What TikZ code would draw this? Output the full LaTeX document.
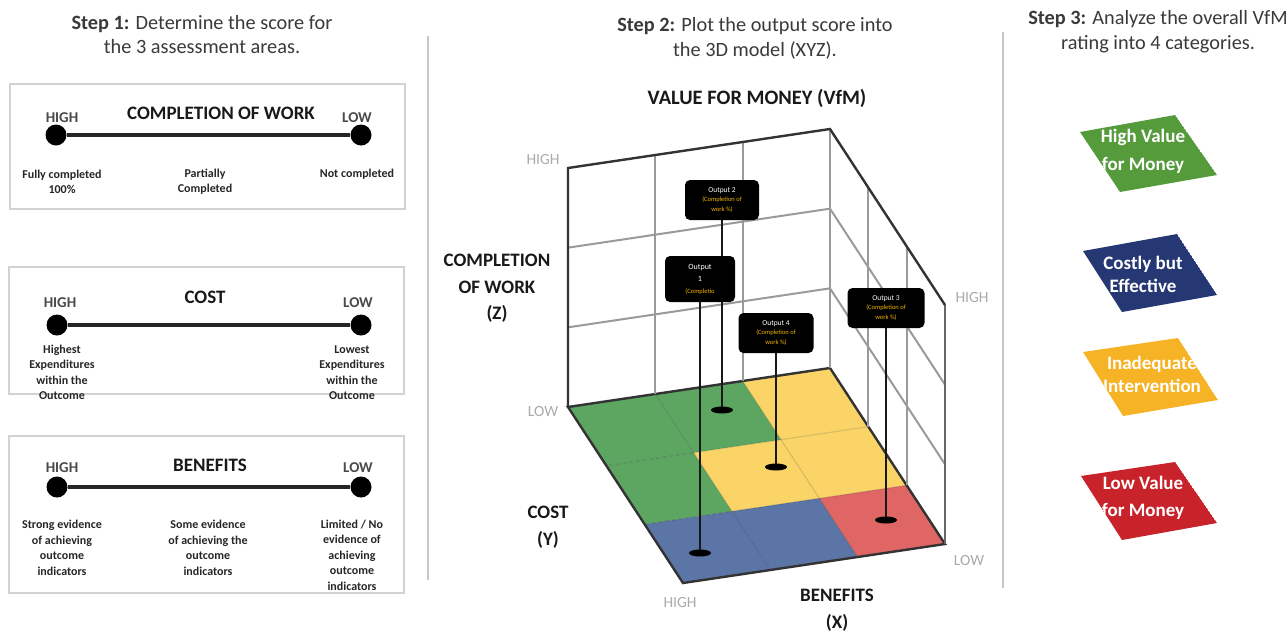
\documentclass[tikz,border=0pt]{standalone}
\usepackage{fontspec}
\setmainfont{Carlito}
\usetikzlibrary{calc}
\definecolor{ttl}{HTML}{3A3A3A}
\definecolor{pbord}{HTML}{D2D2D2}
\definecolor{hlg}{HTML}{4A4A4A}
\definecolor{axg}{HTML}{ABABAB}
\definecolor{fgreen}{HTML}{5CA662}
\definecolor{fyellow}{HTML}{FAD466}
\definecolor{fblue}{HTML}{5B76A6}
\definecolor{fred}{HTML}{E06666}
\definecolor{wallg}{HTML}{9A9A9A}
\definecolor{edg}{HTML}{333333}
\definecolor{outor}{HTML}{F5B400}
\definecolor{cgreen}{HTML}{559B3C}
\definecolor{cnavy}{HTML}{263873}
\definecolor{cyellow}{HTML}{F6B325}
\definecolor{cred}{HTML}{C8232B}
\definecolor{sepg}{HTML}{C8C8C8}
\pgfdeclarelayer{bg}
\pgfsetlayers{bg,main}
\begin{document}
\begin{tikzpicture}[x=1pt,y=-1pt,
 steptitle/.style={font=\fontsize{20.3}{24.5}\selectfont, text=ttl, align=center},
 phead/.style={font=\bfseries\fontsize{19}{22}\selectfont, text=black!90},
 hilo/.style={font=\bfseries\fontsize{15}{18}\selectfont, text=hlg},
 sub/.style={font=\bfseries\fontsize{12}{15.5}\selectfont, text=black!85, align=center},
 panel/.style={draw=pbord, line width=1.6pt},
 sdot/.style={circle, fill=black, minimum size=21pt, inner sep=0pt},
 scaleline/.style={line width=4.5pt, draw=black!85},
 ax/.style={font=\fontsize{15.5}{18}\selectfont, text=axg},
 axname/.style={font=\bfseries\fontsize{19}{26.5}\selectfont, align=center, text=black!90},
 outbox/.style={fill=black, rounded corners=5pt, minimum width=74pt, minimum height=40pt, align=center, inner sep=1pt, font=\fontsize{7.5}{9.5}\selectfont, text=white},
 pole/.style={line width=2.6pt, draw=black!90},
 wall/.style={draw=wallg, line width=2pt},
 outline3d/.style={draw=edg, line width=2.4pt},
 cat/.style={font=\bfseries\fontsize{19}{26}\selectfont, text=white, align=center},
 sepline/.style={draw=sepg, line width=1.6pt}]
\useasboundingbox (0,0) rectangle (1288,633);
\begin{pgfonlayer}{bg}
\fill[white] (0,0) rectangle (1288,633);
\end{pgfonlayer}

% separators
\draw[sepline] (428,36) -- (428,580);
\draw[sepline] (1003,32) -- (1003,588);

% ---------- Step 1 ----------
\node[steptitle] (t1) at (202,34.5) {\textbf{Step 1:} Determine the score for\\the 3 assessment areas.};

\draw[panel] (10,84) rectangle (405,209);
\node[sdot] (h1) at (56,135) {};
\node[sdot] (l1) at (361,135) {};
\draw[scaleline] (h1) -- (l1);
\node[hilo] (hi1) at (62,118) {HIGH};
\node[phead] (hd1) at (221,113) {COMPLETION OF WORK};
\node[hilo] (lo1) at (357,118) {LOW};
\node[sub] (s1a) at (62,182) {Fully completed\\100\%};
\node[sub] (s1b) at (205,181.5) {Partially\\Completed};
\node[sub] (s1c) at (357,174) {Not completed};

\draw[panel] (9,267) rectangle (404,394);
\node[sdot] (h2) at (57,325) {};
\node[sdot] (l2) at (361,325) {};
\draw[scaleline] (h2) -- (l2);
\node[hilo] (hi2) at (60,303) {HIGH};
\node[phead] (hd2) at (205,297) {COST};
\node[hilo] (lo2) at (358,303) {LOW};
\node[sub] (s2a) at (62,372.5) {Highest\\Expenditures\\within the\\Outcome};
\node[sub] (s2c) at (352,372.5) {Lowest\\Expenditures\\within the\\Outcome};

\draw[panel] (9,436) rectangle (404,593);
\node[sdot] (h3) at (57,487) {};
\node[sdot] (l3) at (361,487) {};
\draw[scaleline] (h3) -- (l3);
\node[hilo] (hi3) at (62,468) {HIGH};
\node[phead] (hd3) at (210,465) {BENEFITS};
\node[hilo] (lo3) at (358,468) {LOW};
\node[sub] (s3a) at (62,548) {Strong evidence\\of achieving\\outcome\\indicators};
\node[sub] (s3b) at (208,548) {Some evidence\\of achieving the\\outcome\\indicators};
\node[sub] (s3c) at (352,555) {Limited / No\\evidence of\\achieving\\outcome\\indicators};

% ---------- Step 2 ----------
\node[steptitle] (t2) at (755,38.5) {\textbf{Step 2:} Plot the output score into\\the 3D model (XYZ).};
\node[phead, font=\bfseries\fontsize{20.5}{22}\selectfont] (vfm) at (757,98) {VALUE FOR MONEY (VfM)};

\begin{pgfonlayer}{bg}
\begin{scope}[shift={(568,407)}, x={(262pt,39pt)}, y={(115pt,-176pt)}, z={(0pt,239pt)}]
 \foreach \i/\j/\c in {0/0/fgreen,1/0/fgreen,2/0/fyellow,0/1/fgreen,1/1/fyellow,2/1/fyellow,0/2/fblue,1/2/fblue,2/2/fred}
  \fill[\c] ({\i/3},{\j/3}) -- ({(\i+1)/3},{\j/3}) -- ({(\i+1)/3},{(\j+1)/3}) -- ({\i/3},{(\j+1)/3}) -- cycle;
 \foreach \t in {0.3333,0.6667} {
  \draw[black, opacity=0.15, line width=1pt] (\t,0) -- (\t,1);
  \draw[black, opacity=0.15, line width=1pt] (0,\t) -- (1,\t);
 }
 \draw[outline3d] (0,0) -- (1,0) -- (1,1) -- (0,1) -- cycle;
 \foreach \t in {0.3333,0.6667,1} \draw[wall] (\t,0,0) -- (\t,0,1);
 \foreach \t in {0.3333,0.6667} \draw[wall] (0,0,\t) -- (1,0,\t);
 \foreach \t in {0.3333,0.6667} \draw[wall] (1,\t,0) -- (1,\t,1);
 \foreach \t in {0.3333,0.6667} \draw[wall] (1,0,\t) -- (1,1,\t);
 \draw[wall, draw=black!60] (1,1,0) -- (1,1,1);
 \draw[outline3d] (0,0,0) -- (0,0,1) -- (1,0,1) -- (1,1,1);
\end{scope}
\end{pgfonlayer}

\coordinate (f1) at (700,553);
\coordinate (f2) at (722,410);
\coordinate (f3) at (886,520);
\coordinate (f4) at (776,467);

\node[outbox] (o2) at (722,200) {Output 2\\\textcolor{outor}{\fontsize{6.5}{8.5}\selectfont(Completion of}\\\textcolor{outor}{\fontsize{6.5}{8.5}\selectfont work \%)}};
\node[outbox, minimum width=70pt, minimum height=46pt, font=\fontsize{8}{12}\selectfont] (o1) at (700,279) {Output\\1\\\textcolor{outor}{\fontsize{6.5}{8.5}\selectfont(Completio}};
\node[outbox, minimum width=75pt] (o4) at (776,333) {Output 4\\\textcolor{outor}{\fontsize{6.5}{8.5}\selectfont(Completion of}\\\textcolor{outor}{\fontsize{6.5}{8.5}\selectfont work \%)}};
\node[outbox, minimum width=77pt] (o3) at (886,308) {Output 3\\\textcolor{outor}{\fontsize{6.5}{8.5}\selectfont(Completion of}\\\textcolor{outor}{\fontsize{6.5}{8.5}\selectfont work \%)}};

\begin{pgfonlayer}{bg}
 \draw[pole] (o2) -- (f2);
 \draw[pole] (o1) -- (f1);
 \draw[pole] (o4) -- (f4);
 \draw[pole] (o3) -- (f3);
 \foreach \f in {f1,f2,f3,f4} \fill[black] (\f) ellipse [x radius=11pt, y radius=3.5pt];
\end{pgfonlayer}

\node[ax] (zh) at (543,160) {HIGH};
\node[ax] (zl) at (543,412) {LOW};
\node[ax] (rh) at (972,298) {HIGH};
\node[ax] (rl) at (969,561) {LOW};
\node[ax] (xh) at (680,603) {HIGH};
\node[axname] (zn) at (497,288.5) {COMPLETION\\OF WORK\\(Z)};
\node[axname] (yn) at (548,527) {COST\\(Y)};
\node[axname] (xn) at (837,610) {BENEFITS\\(X)};

% ---------- Step 3 ----------
\node[steptitle] (t3) at (1158,31.5) {\textbf{Step 3:} Analyze the overall VfM\\rating into 4 categories.};

\begin{scope}
 \clip (1080,132) -- (1175,115) -- (1217,175) -- (1120,192) -- cycle;
 \fill[cgreen] (1080,132) -- (1175,115) -- (1217,175) -- (1120,192) -- cycle;
 \node[cat, font=\bfseries\fontsize{19}{28}\selectfont] (c1) at (1143,151) {High Value\\for Money};
\end{scope}
\begin{scope}
 \clip (1083,251) -- (1177,234) -- (1217,295) -- (1122,312) -- cycle;
 \fill[cnavy] (1083,251) -- (1177,234) -- (1217,295) -- (1122,312) -- cycle;
 \node[cat, font=\bfseries\fontsize{19}{23}\selectfont] (c2) at (1143,274.5) {Costly but\\Effective};
\end{scope}
\begin{scope}
 \clip (1083,352) -- (1178,338) -- (1218,400) -- (1123,416) -- cycle;
 \fill[cyellow] (1083,352) -- (1178,338) -- (1218,400) -- (1123,416) -- cycle;
 \node[cat, font=\bfseries\fontsize{19}{23}\selectfont] (c3) at (1152,374.5) {Inadequate\\Intervention};
\end{scope}
\begin{scope}
 \clip (1081,476) -- (1175,462) -- (1217,523) -- (1122,540) -- cycle;
 \fill[cred] (1081,476) -- (1175,462) -- (1217,523) -- (1122,540) -- cycle;
 \node[cat, font=\bfseries\fontsize{19}{27}\selectfont] (c4) at (1143,497.5) {Low Value\\for Money};
\end{scope}
\end{tikzpicture}
\end{document}
